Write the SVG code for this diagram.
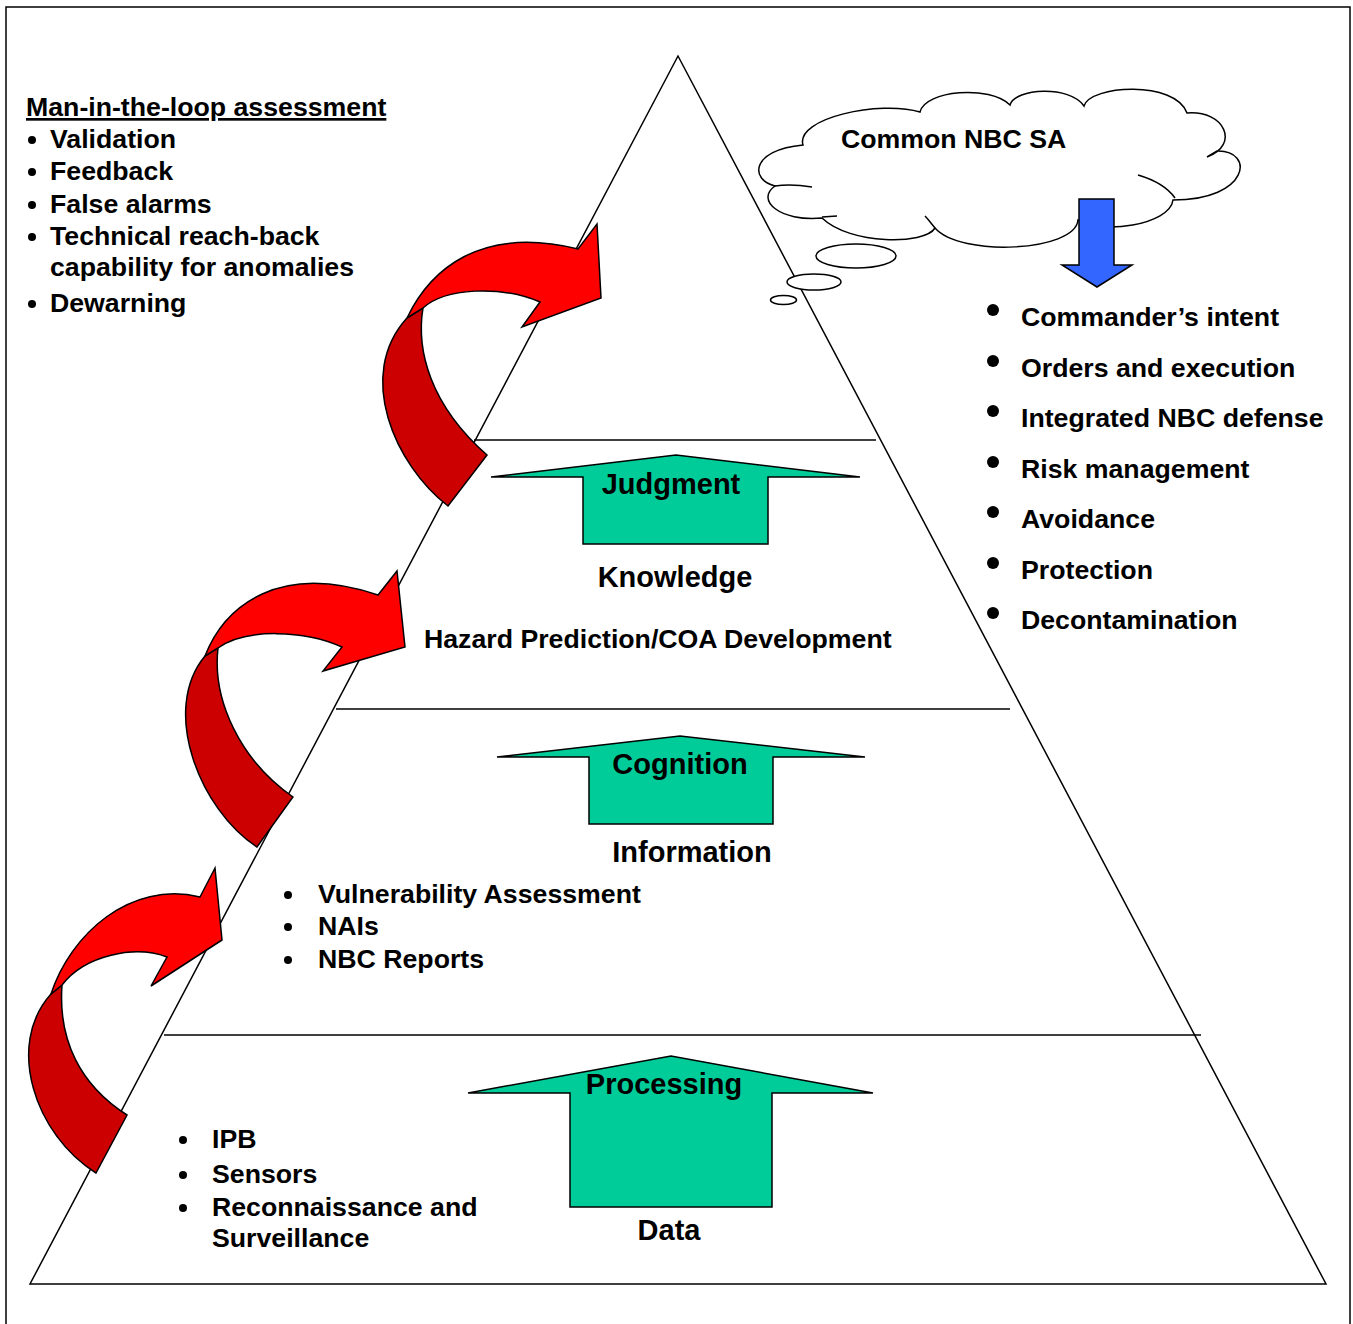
<svg xmlns="http://www.w3.org/2000/svg" width="1353" height="1324" viewBox="0 0 1353 1324">
<style>
text{font-family:"Liberation Sans",Arial,sans-serif;font-weight:bold;fill:#000}
.l{font-size:26.7px}
.h{font-size:29px;text-anchor:middle}
.ln{stroke:#000;stroke-width:1.5;fill:none}
.g{fill:#00CC99;stroke:#000;stroke-width:1.5;stroke-linejoin:miter}
.rb{fill:#FF0000;stroke:#000;stroke-width:1.5;stroke-linejoin:miter}
.rd{fill:#CC0000;stroke:#000;stroke-width:1.5;stroke-linejoin:miter}
.cl{fill:#fff;stroke:#000;stroke-width:1.5}
</style>
<rect x="6" y="7" width="1344" height="1340" fill="#fff" stroke="#000" stroke-width="1.5"/>
<g id="pyramid">
<polygon class="ln" points="678,56 1326,1284 30,1284"/>
<line class="ln" x1="474" y1="440" x2="876" y2="440"/>
<line class="ln" x1="336" y1="709" x2="1010" y2="709"/>
<line class="ln" x1="164" y1="1035" x2="1201" y2="1035"/>
</g>
<g id="cloud">
<path class="cl" d="M803,145 C795,118 880,100 920,112 C925,90 990,85 1010,105 C1015,88 1070,85 1084,106 C1090,85 1175,80 1187,113 C1225,110 1240,145 1207,157 L1217,151 C1255,150 1250,200 1173,200 C1170,225 1100,235 1078,220 C1075,252 960,257 935,228 C925,245 850,245 822,218 C780,222 755,200 775,186 C750,180 750,150 803,145 Z"/>
<path class="ln" d="M1138,175 C1155,180 1168,188 1175,198"/>
<path class="ln" d="M935,228 C930,222 928,219 925,216"/>
<path class="ln" d="M822,217 L837,216"/>
<path class="ln" d="M775,186 C788,184 800,185 812,187"/>
<ellipse class="cl" cx="856" cy="256" rx="40" ry="12"/>
<ellipse class="cl" cx="814" cy="282" rx="27" ry="8"/>
<ellipse class="cl" cx="783.5" cy="300" rx="13" ry="4.5"/>
<text class="l" x="841" y="148">Common NBC SA</text>
<polygon fill="#3366FF" stroke="#000" stroke-width="1.5" points="1079,199 1114,199 1114,265 1132,265 1097,287 1062,265 1079,265"/>
</g>
<g id="man-in-the-loop">
<text class="l" x="26" y="116" text-decoration="underline">Man-in-the-loop assessment</text>
<circle cx="32" cy="140" r="4"/><text class="l" x="50" y="148">Validation</text>
<circle cx="32" cy="172" r="4"/><text class="l" x="50" y="180">Feedback</text>
<circle cx="32" cy="205" r="4"/><text class="l" x="50" y="213">False alarms</text>
<circle cx="32" cy="237" r="4"/><text class="l" x="50" y="245">Technical reach-back</text>
<text class="l" x="50" y="276">capability for anomalies</text>
<circle cx="32" cy="304" r="4"/><text class="l" x="50" y="312">Dewarning</text>
</g>
<g id="sa-list">
<circle cx="993" cy="310" r="6"/><text class="l" x="1021" y="326">Commander’s intent</text>
<circle cx="993" cy="361" r="6"/><text class="l" x="1021" y="377">Orders and execution</text>
<circle cx="993" cy="411" r="6"/><text class="l" x="1021" y="427">Integrated NBC defense</text>
<circle cx="993" cy="462" r="6"/><text class="l" x="1021" y="478">Risk management</text>
<circle cx="993" cy="512" r="6"/><text class="l" x="1021" y="528">Avoidance</text>
<circle cx="993" cy="563" r="6"/><text class="l" x="1021" y="579">Protection</text>
<circle cx="993" cy="613" r="6"/><text class="l" x="1021" y="629">Decontamination</text>
</g>
<g id="knowledge">
<polygon class="g" points="491,477 676,455 860,477 768,477 768,544 583,544 583,477"/>
<text class="h" x="671" y="494">Judgment</text>
<text class="h" x="675" y="587">Knowledge</text>
<text class="l" x="424" y="648">Hazard Prediction/COA Development</text>
</g>
<g id="information">
<polygon class="g" points="497,757 680,736 865,757 773,757 773,824 589,824 589,757"/>
<text class="h" x="680" y="774">Cognition</text>
<text class="h" x="692" y="862">Information</text>
<circle cx="288" cy="895" r="4"/><text class="l" x="318" y="903">Vulnerability Assessment</text>
<circle cx="288" cy="927" r="4"/><text class="l" x="318" y="935">NAIs</text>
<circle cx="288" cy="960" r="4"/><text class="l" x="318" y="968">NBC Reports</text>
</g>
<g id="data">
<polygon class="g" points="468,1093 671,1056 873,1093 772,1093 772,1207 570,1207 570,1093"/>
<text class="h" x="664" y="1094">Processing</text>
<text class="h" x="669" y="1240">Data</text>
<circle cx="183" cy="1140" r="4"/><text class="l" x="212" y="1148">IPB</text>
<circle cx="183" cy="1175" r="4"/><text class="l" x="212" y="1183">Sensors</text>
<circle cx="183" cy="1208" r="4"/><text class="l" x="212" y="1216">Reconnaissance and</text>
<text class="l" x="212" y="1247">Surveillance</text>
</g>
<g id="connectors">
<g id="loop-top">
<path class="rd" d="M423,308 C416,350 430,405 487,455 L448,506 C395,465 355,375 407,318 Z"/>
<path class="rb" d="M407,318 C430,270 480,225 578,249 L597,224 L601,298 L522,327 L540,302 C500,285 445,288 423,308 Z"/>
</g>
<g id="loop-mid">
<path class="rd" d="M218,648 C212,700 240,760 293,797 L257,847 C200,810 160,710 205,656 Z"/>
<path class="rb" d="M205,656 C225,605 280,562 378,595 L397,571 L405,647 L323,671 L342,647 C305,630 245,628 218,648 Z"/>
</g>
<g id="loop-bottom">
<path class="rd" d="M62,985 C58,1040 80,1085 127,1115 L96,1173 C35,1135 5,1045 51,994 Z"/>
<path class="rb" d="M51,994 C70,935 130,880 200,897 L215,868 L222,940 L151,986 L167,957 C135,945 85,955 62,985 Z"/>
</g>
</g>
</svg>
